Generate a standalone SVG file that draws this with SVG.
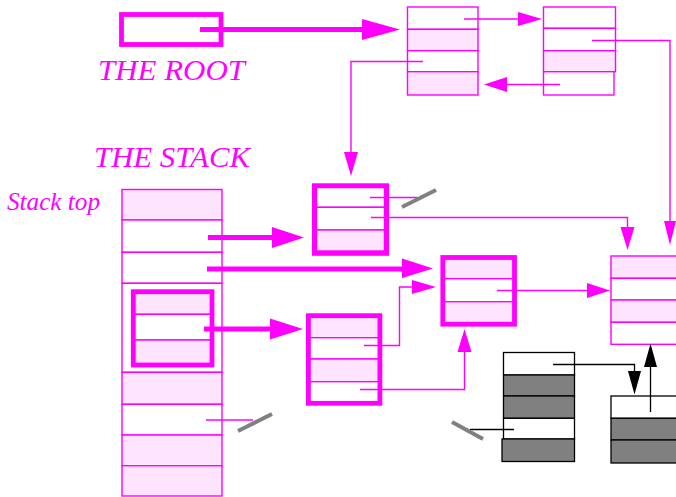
<svg xmlns="http://www.w3.org/2000/svg" width="676" height="497" viewBox="0 0 676 497">
<style>
.cell{stroke:#ff00ff;stroke-width:1.4;}
.w{fill:#ffffff;}
.p{fill:#ffe4ff;}
.thick{fill:none;stroke:#ff00ff;stroke-width:4.8;}
.ln{fill:none;stroke:#ff00ff;stroke-width:1.4;}
.tl{fill:none;stroke:#ff00ff;stroke-width:5;}
.hd{fill:#ff00ff;stroke:none;}
.bc{stroke:#000000;stroke-width:1.3;}
.g{fill:#808080;}
.bl{fill:none;stroke:#000000;stroke-width:1.3;}
.bh{fill:#000000;stroke:none;}
.slash{stroke:#808080;stroke-width:4;stroke-linecap:butt;}
.lbl{font-style:italic;fill:#ff00ff;}
</style>
<rect width="676" height="497" fill="#ffffff"/>

<g id="label-root"><text class="lbl" font-family="'Liberation Serif', 'Times New Roman', serif" x="98" y="80" font-size="30" textLength="147" lengthAdjust="spacingAndGlyphs">THE ROOT</text></g>
<g id="label-stack"><text class="lbl" font-family="'Liberation Serif', 'Times New Roman', serif" x="94" y="166.5" font-size="30" textLength="156" lengthAdjust="spacingAndGlyphs">THE STACK</text></g>
<g id="label-stacktop"><text class="lbl" font-family="'Liberation Serif', 'Times New Roman', serif" x="7" y="210" font-size="25" textLength="93" lengthAdjust="spacingAndGlyphs">Stack top</text></g>

<g id="root">
<rect class="thick" x="121.5" y="14.5" width="99.5" height="30"/>
</g>

<g id="node1">
<rect class="cell w" x="407.5" y="7" width="70.5" height="22.3"/>
<rect class="cell p" x="407.5" y="29.3" width="70.5" height="21.4"/>
<rect class="cell w" x="407.5" y="50.7" width="70.5" height="21"/>
<rect class="cell p" x="407.5" y="71.7" width="70.5" height="23.3"/>
</g>

<g id="node2">
<rect class="cell w" x="543.5" y="7" width="72" height="21.3"/>
<rect class="cell w" x="543.5" y="28.3" width="72" height="22.4"/>
<rect class="cell p" x="543.5" y="50.7" width="72" height="21"/>
<rect class="cell w" x="543.5" y="71.7" width="70.5" height="23.3"/>
</g>

<g id="stack">
<rect class="cell p" x="122" y="189.5" width="100" height="30.5"/>
<rect class="cell w" x="122" y="220" width="100" height="32.3"/>
<rect class="cell w" x="122" y="252.3" width="100" height="31"/>
<rect class="cell w" x="122" y="283.3" width="100" height="89"/>
<rect class="cell p" x="122" y="372.3" width="100" height="32"/>
<rect class="cell w" x="122" y="404.3" width="100" height="30.7"/>
<rect class="cell p" x="122" y="435" width="100" height="30.7"/>
<rect class="cell p" x="122" y="465.7" width="100" height="30.3"/>
</g>

<g id="stack-frame">
<rect class="cell p" x="133" y="291.5" width="79" height="22.8"/>
<rect class="cell w" x="133" y="314.3" width="79" height="25.7"/>
<rect class="cell p" x="133" y="340" width="79" height="25"/>
<rect class="thick" x="133.3" y="291.7" width="78.7" height="73.3"/>
</g>

<g id="nodeA">
<rect class="cell w" x="316.5" y="187.5" width="68" height="19.8"/>
<rect class="cell w" x="316.5" y="207.3" width="68" height="22.7"/>
<rect class="cell p" x="316.5" y="230" width="68" height="21"/>
<rect class="thick" x="314.4" y="185.7" width="72.3" height="67.7"/>
</g>

<g id="nodeB">
<rect class="cell p" x="443" y="258" width="71" height="20.7"/>
<rect class="cell w" x="443" y="278.7" width="71" height="23"/>
<rect class="cell p" x="443" y="301.7" width="71" height="21"/>
<rect class="thick" x="442.8" y="257.5" width="71.7" height="66.7"/>
</g>

<g id="nodeC">
<rect class="cell p" x="308.5" y="315.5" width="71.5" height="22.2"/>
<rect class="cell w" x="308.5" y="337.7" width="71.5" height="21.3"/>
<rect class="cell p" x="308.5" y="359" width="71.5" height="22.7"/>
<rect class="cell w" x="308.5" y="381.7" width="71.5" height="21.8"/>
<rect class="thick" x="308.4" y="315.7" width="71.5" height="87.6"/>
</g>

<g id="nodeD">
<rect class="cell p" x="611" y="256" width="72" height="22.3"/>
<rect class="cell w" x="611" y="278.3" width="72" height="21.7"/>
<rect class="cell p" x="611" y="300" width="72" height="22.3"/>
<rect class="cell w" x="611" y="322.3" width="72" height="22"/>
</g>

<g id="nodeE">
<rect class="bc w" x="503.5" y="352.5" width="71" height="22.5"/>
<rect class="bc g" x="503.5" y="375" width="71" height="21"/>
<rect class="bc g" x="503.5" y="396" width="71" height="22.3"/>
<rect class="bc w" x="503.5" y="418.3" width="71" height="20.7"/>
<rect class="bc g" x="502" y="439" width="72.5" height="22.5"/>
</g>

<g id="nodeF">
<rect class="bc w" x="611" y="396" width="72" height="22.3"/>
<rect class="bc g" x="611" y="418.3" width="72" height="21.7"/>
<rect class="bc g" x="611" y="440" width="72" height="23"/>
</g>

<g id="connectors">
<line class="tl" x1="200" y1="29.5" x2="363" y2="29.5"/>
<polygon class="hd" points="362,19 400,29.5 362,40"/>

<line class="tl" x1="208" y1="237.5" x2="273" y2="237.5"/>
<polygon class="hd" points="272,227 304,237.5 272,248"/>
<line class="tl" x1="207" y1="269" x2="403" y2="269"/>
<polygon class="hd" points="402,258.5 433,268.5 402,278"/>
<line class="tl" x1="204" y1="329" x2="271" y2="329"/>
<polygon class="hd" points="270,318.5 303,329 270,339.5"/>

<line class="ln" x1="464" y1="19" x2="519" y2="19"/>
<polygon class="hd" points="518,12 542,19 518,26"/>
<line class="ln" x1="560" y1="84.5" x2="506" y2="84.5"/>
<polygon class="hd" points="507,77 484,84.5 507,92"/>
<polyline class="ln" points="592,40.5 670,40.5 670,222"/>
<polygon class="hd" points="664,221 670,245 676,221"/>
<polyline class="ln" points="423,61.5 351,61.5 351,153"/>
<polygon class="hd" points="344,152 351,176 358,152"/>
<polyline class="ln" points="371,217.5 627.5,217.5 627.5,228"/>
<polygon class="hd" points="620.5,227 627.5,250 634.5,227"/>
<line class="ln" x1="370" y1="197.5" x2="417" y2="197.5"/>
<line class="slash" x1="402" y1="207" x2="436" y2="190"/>
<line class="ln" x1="497" y1="290.5" x2="588" y2="290.5"/>
<polygon class="hd" points="587,283 610,290.5 587,298"/>
<polyline class="ln" points="364,345.5 399.5,345.5 399.5,287 413,287"/>
<polygon class="hd" points="412,280 436,287 412,294"/>
<polyline class="ln" points="360,389.5 464.5,389.5 464.5,351"/>
<polygon class="hd" points="457.5,352 464.5,329 471.5,352"/>
<line class="ln" x1="206" y1="420" x2="253" y2="420"/>
<line class="slash" x1="238" y1="431" x2="272" y2="414"/>

<polyline class="bl" points="553,364.5 634.5,364.5 634.5,372"/>
<polygon class="bh" points="628,371 634.5,394.5 641,371"/>
<line class="bl" x1="650.5" y1="412" x2="650.5" y2="366"/>
<polygon class="bh" points="644,367 650.5,343.5 657,367"/>
<line class="bl" x1="514" y1="429.5" x2="470" y2="429.5"/>
<line class="slash" x1="452" y1="422" x2="483" y2="439"/>
</g>
</svg>
